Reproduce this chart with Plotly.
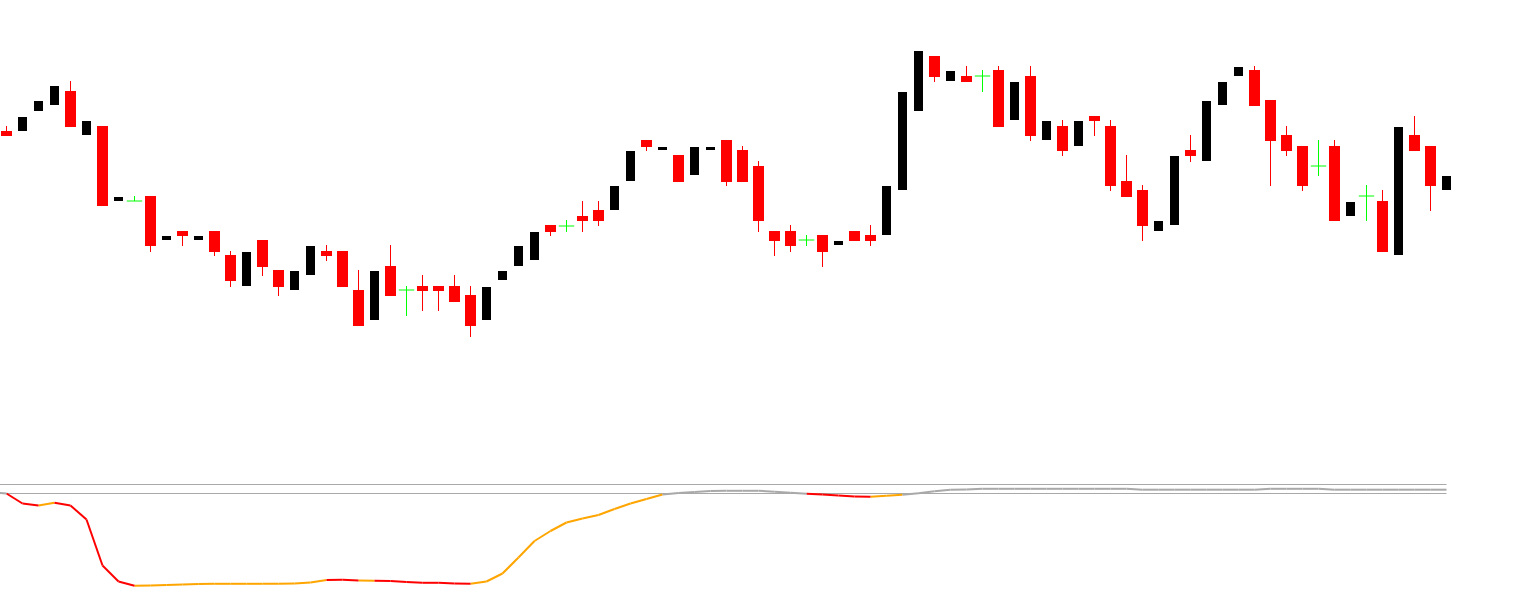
"""
Candlestick chart with a colour-coded trend line pane underneath
"""

import plotly.graph_objects as go

# ---------------- price bars (91 bars, index 0..90) ----------------
opens = [869, 869, 889, 895, 909, 865, 874, 799, 799, 804,
         760, 769, 760, 769, 745, 714, 760, 730, 710, 725,
         749, 749, 710, 680, 734, 710, 714, 714, 714, 705,
         680, 720, 734, 740, 775, 774, 784, 790, 790, 819,
         860, 850, 845, 825, 850, 860, 850, 834, 769, 769,
         760, 765, 755, 769, 765, 765, 810, 889, 944, 919,
         924, 924, 930, 880, 924, 860, 874, 854, 884, 874,
         819, 810, 769, 775, 850, 839, 895, 924, 930, 900,
         865, 854, 834, 854, 784, 804, 799, 745, 865, 854,
         810]
highs = [874, 883, 899, 914, 919, 879, 874, 803, 804, 804,
         764, 769, 764, 769, 749, 748, 760, 730, 729, 754,
         755, 749, 730, 729, 755, 714, 725, 714, 725, 714,
         713, 729, 754, 768, 775, 780, 799, 799, 814, 849,
         860, 853, 845, 853, 853, 860, 854, 839, 769, 775,
         765, 765, 759, 769, 775, 814, 908, 949, 944, 929,
         934, 930, 934, 918, 934, 879, 880, 879, 884, 880,
         845, 815, 779, 844, 865, 899, 918, 933, 934, 900,
         874, 854, 860, 860, 798, 815, 810, 873, 884, 854,
         824]
lows = [864, 869, 889, 895, 873, 865, 794, 799, 799, 748,
        760, 754, 760, 744, 713, 714, 724, 704, 710, 725,
        739, 713, 674, 680, 704, 684, 689, 689, 698, 663,
        680, 720, 734, 740, 764, 768, 768, 774, 790, 819,
        849, 850, 818, 825, 850, 814, 818, 768, 744, 748,
        754, 733, 755, 759, 754, 765, 810, 889, 918, 919,
        918, 908, 873, 880, 859, 860, 844, 854, 864, 809,
        803, 759, 769, 775, 838, 839, 895, 924, 894, 814,
        844, 809, 824, 779, 784, 779, 748, 745, 849, 789,
        810]
closes = [864, 883, 899, 914, 873, 879, 794, 803, 799, 754,
          764, 764, 764, 748, 719, 748, 733, 713, 729, 754,
          744, 713, 674, 729, 704, 710, 709, 709, 698, 674,
          713, 729, 754, 768, 768, 774, 779, 779, 814, 849,
          853, 853, 818, 853, 853, 818, 818, 779, 759, 754,
          760, 748, 759, 759, 759, 814, 908, 949, 923, 929,
          918, 924, 873, 918, 864, 879, 849, 879, 879, 814,
          803, 774, 779, 844, 844, 899, 918, 933, 894, 859,
          849, 814, 834, 779, 798, 804, 748, 873, 849, 814,
          824]

# ---------------- indicator (bar index -1..90) ----------------
ind_values = [8.5, 7, -3, -5, -2.3, -5, -19, -65, -81, -85.3,
              -85, -84.5, -84, -83.5, -83.3, -83.3, -83.3, -83.3, -83.2, -83,
              -82, -79.5, -79.3, -80, -80.2, -80.5, -81.5, -82.3, -82.3, -83,
              -83.3, -81, -73, -57, -40.5, -30.5, -22, -18, -14.5, -8.5,
              -3, 1.5, 6, 7.5, 8.5, 9.5, 9.7, 9.7, 9.7, 8.8,
              7.7, 6.7, 6, 5, 4, 3.7, 4.7, 5.7, 7.3, 9.3,
              10.7, 11, 11.7, 11.7, 11.7, 11.7, 11.7, 11.7, 11.7, 11.7,
              11.7, 11.7, 10.8, 10.8, 10.8, 10.8, 10.8, 10.8, 10.8, 10.8,
              11.7, 11.7, 11.7, 11.7, 10.8, 10.8, 10.8, 10.8, 10.8, 10.8,
              10.8, 10.8]
# segment colour runs, first segment goes from bar -1 to bar 0
ind_color_runs = [("gray", 1), ("red", 2), ("orange", 1), ("red", 5),
                  ("orange", 12), ("red", 2), ("orange", 1), ("red", 6),
                  ("orange", 12), ("gray", 9), ("red", 4), ("orange", 2),
                  ("gray", 34)]
levels = [16, 7]

COLORS = {"red": "#ff0000", "orange": "#ffa500", "gray": "#a9a9a9"}

fig = go.Figure()

# ========== split bars into down / up / doji ==========
down, up, doji = [], [], []
for i, (o, c) in enumerate(zip(opens, closes)):
    if c < o:
        down.append(i)
    elif c > o:
        up.append(i)
    else:
        doji.append(i)


def wicks(idx):
    xs, ys = [], []
    for i in idx:
        xs += [i, i, None]
        ys += [lows[i], highs[i], None]
    return xs, ys


# red wicks then bodies
wx, wy = wicks(down)
fig.add_trace(go.Scatter(x=wx, y=wy, mode='lines',
                         line=dict(color='#ff0000', width=1), hoverinfo='skip'))
fig.add_trace(go.Bar(
    x=down,
    y=[opens[i] - closes[i] for i in down],
    base=[closes[i] for i in down],
    width=0.6875,
    marker=dict(color='#ff0000', line=dict(width=0)),
))

# black bodies (no visible wicks)
fig.add_trace(go.Bar(
    x=up,
    y=[closes[i] - opens[i] for i in up],
    base=[opens[i] for i in up],
    width=0.5625,
    marker=dict(color='#000000', line=dict(width=0)),
))

# green doji crosses
wx, wy = wicks(doji)
fig.add_trace(go.Scatter(x=wx, y=wy, mode='lines',
                         line=dict(color='#00ff00', width=1), hoverinfo='skip'))
fig.add_trace(go.Scatter(
    x=doji, y=[opens[i] for i in doji], mode='markers',
    marker=dict(symbol='line-ew', size=11,
                line=dict(color='#00ff00', width=1)),
))

# ========== indicator pane ==========
ind_x = list(range(-1, len(opens)))
for lv in levels:
    fig.add_trace(go.Scatter(
        x=[ind_x[0], ind_x[-1]], y=[lv, lv], mode='lines', yaxis='y2',
        line=dict(color='#a9a9a9', width=1), hoverinfo='skip'))

seg_colors = []
for name, n in ind_color_runs:
    seg_colors += [name] * n

for name in ["orange", "red", "gray"]:
    xs, ys = [], []
    for s, cname in enumerate(seg_colors):
        if cname != name:
            continue
        xs += [ind_x[s], ind_x[s + 1], None]
        ys += [ind_values[s], ind_values[s + 1], None]
    fig.add_trace(go.Scatter(
        x=xs, y=ys, mode='lines', yaxis='y2',
        line=dict(color=COLORS[name], width=2), hoverinfo='skip'))

fig.update_layout(
    width=1528,
    height=604,
    barmode='overlay',
    showlegend=False,
    plot_bgcolor='white',
    paper_bgcolor='white',
    margin=dict(l=0, r=0, t=0, b=0, pad=0),
    xaxis=dict(visible=False, range=[-0.40625, 95.09375]),
    yaxis=dict(visible=False, range=[396, 1000]),
    yaxis2=dict(visible=False, range=[-103.5, 500.5], overlaying='y'),
)

# page has a default body margin; drop it so the chart sits at the corner
fig.write_html("out.html",
               config={'displayModeBar': False},
               post_script="document.body.style.margin = '0';")
